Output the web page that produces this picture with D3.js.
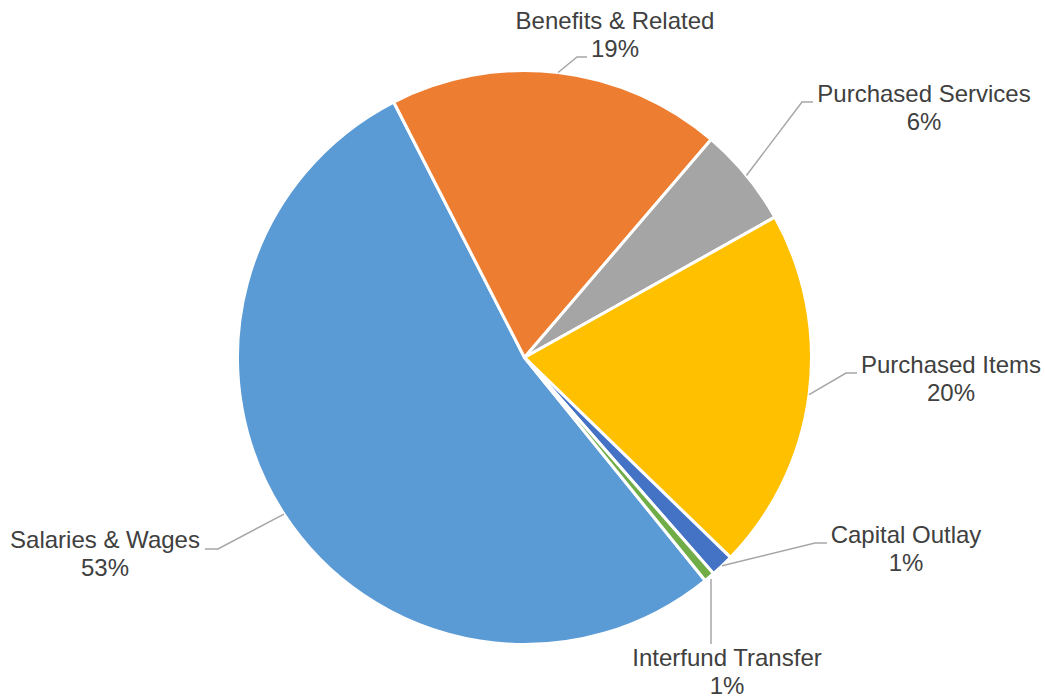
<!DOCTYPE html>
<html>
<head>
<meta charset="utf-8">
<script src="https://cdn.jsdelivr.net/npm/d3@7"></script>
<style>
  html, body { margin: 0; padding: 0; background: #ffffff; }
  svg { display: block; }
  text { font-family: "Liberation Sans", Arial, sans-serif; fill: #404040; }
</style>
</head>
<body>
<svg id="chart" width="1045" height="698"></svg>
<script>
// Expenditure categories and their share of the total (percent)
const categories = ["Salaries & Wages", "Benefits & Related", "Purchased Services",
                    "Purchased Items", "Capital Outlay", "Interfund Transfer"];
const shares = [53.3, 18.8, 5.6, 20.4, 1.3, 0.6];
const percentLabels = ["53%", "19%", "6%", "20%", "1%", "1%"];
const colors = ["#5B9BD5", "#ED7D31", "#A5A5A5", "#FFC000", "#4472C4", "#70AD47"];

// Label placement: text anchor (centre of block, first baseline) and elbow of leader
const labelLayout = {
  "Salaries & Wages":   { x: 105, y: 548, elbow: [218, 549], end: [205, 549] },
  "Benefits & Related": { x: 615, y: 29,  elbow: [577, 57],  end: [587, 57] },
  "Purchased Services": { x: 924, y: 102, elbow: [802, 102], end: [813, 102] },
  "Purchased Items":    { x: 951, y: 373, elbow: [846, 373], end: [857, 373] },
  "Capital Outlay":     { x: 906, y: 543, elbow: [815, 543], end: [827, 543] },
  "Interfund Transfer": { x: 727, y: 666, elbow: null,       end: [711, 644] }
};

const cx = 524.5, cy = 357.5, radius = 287;
const deg = Math.PI / 180;

const svg = d3.select("#chart");
const g = svg.append("g").attr("transform", `translate(${cx},${cy})`);

const data = categories.map((c, i) => ({ name: c, value: shares[i], pct: percentLabels[i], color: colors[i] }));

const pie = d3.pie()
  .value(d => d.value)
  .sort(null)
  .startAngle(141 * deg)
  .endAngle(141 * deg + 2 * Math.PI);

const arc = d3.arc().innerRadius(0).outerRadius(radius);
const arcs = pie(data);

g.selectAll("path.slice")
  .data(arcs)
  .enter().append("path")
  .attr("class", "slice")
  .attr("d", arc)
  .attr("fill", d => d.data.color)
  .attr("stroke", "#ffffff")
  .attr("stroke-width", 3)
  .attr("stroke-linejoin", "round");

// Leader lines from the slice edge to each label
const edgePoint = d => {
  const a = (d.startAngle + d.endAngle) / 2;
  return [cx + radius * Math.sin(a), cy - radius * Math.cos(a)];
};

svg.selectAll("polyline.leader")
  .data(arcs)
  .enter().append("polyline")
  .attr("class", "leader")
  .attr("points", d => {
    const L = labelLayout[d.data.name];
    const pts = [edgePoint(d)];
    if (L.elbow) pts.push(L.elbow);
    else pts[0] = [L.end[0], edgePoint(d)[1] + 2];
    pts.push(L.end);
    return pts.map(p => p.join(",")).join(" ");
  })
  .attr("fill", "none")
  .attr("stroke", "#A6A6A6")
  .attr("stroke-width", 1.5);

const labels = svg.selectAll("text.label")
  .data(arcs)
  .enter().append("text")
  .attr("class", "label")
  .attr("text-anchor", "middle")
  .attr("font-size", "24px");

labels.append("tspan")
  .attr("x", d => labelLayout[d.data.name].x)
  .attr("y", d => labelLayout[d.data.name].y)
  .text(d => d.data.name);

labels.append("tspan")
  .attr("x", d => labelLayout[d.data.name].x)
  .attr("y", d => labelLayout[d.data.name].y + 27.5)
  .text(d => d.data.pct);
</script>
</body>
</html>
